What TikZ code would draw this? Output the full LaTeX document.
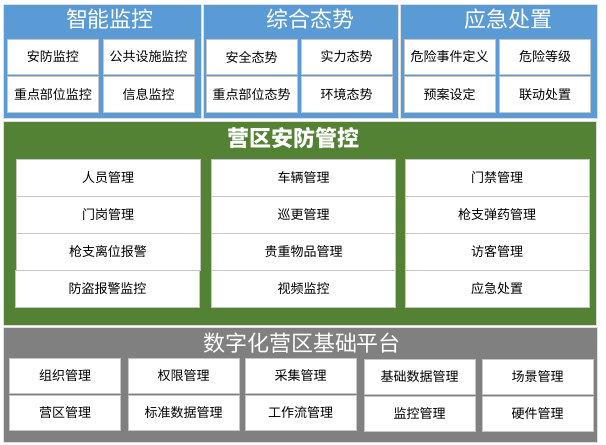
\documentclass[tikz,border=0pt]{standalone}
\usepackage{fontspec}
\newfontfamily\cjk{Noto Sans CJK SC}
\definecolor{pblue}{HTML}{5B9BD5}
\definecolor{pgreen}{HTML}{548235}
\definecolor{pgray}{HTML}{808080}
\begin{document}
\begin{tikzpicture}[x=1pt,y=-1pt,
  panel/.style={draw=gray!25,line width=1pt},
  ptitle/.style={text=white,font=\cjk\fontsize{22}{24}\selectfont,inner sep=0pt},
  gtitle/.style={text=white,font=\cjk\bfseries\fontsize{22}{24}\selectfont,inner sep=0pt},
  box/.style={draw=gray!45,line width=0.8pt,fill=white,inner sep=0pt,
    font=\cjk\fontsize{13}{15}\selectfont},
  tbox/.style={box,minimum width=91pt,minimum height=35.5pt},
  mbox/.style={box,minimum width=184pt,minimum height=37pt},
  bbox/.style={box,minimum width=111pt,minimum height=35pt}]
\useasboundingbox[fill=white] (0,0) rectangle (606,445);
% panels
\node[panel,fill=pblue,minimum width=198pt,minimum height=114pt,inner sep=0pt] (p1) at (102,61) {};
\node[panel,fill=pblue,minimum width=195pt,minimum height=114pt,inner sep=0pt] (p2) at (300.5,61) {};
\node[panel,fill=pblue,minimum width=197pt,minimum height=114pt,inner sep=0pt] (p3) at (498.5,61) {};
\node[panel,fill=pgreen,minimum width=593pt,minimum height=204pt,inner sep=0pt] (p4) at (299.5,223) {};
\node[panel,fill=pgray,minimum width=594pt,minimum height=115pt,inner sep=0pt] (p5) at (300,384.5) {};
% titles
\node[ptitle] (t1) at (110,19) {智能监控};
\node[ptitle] (t2) at (310,19) {综合态势};
\node[ptitle] (t3) at (508,19) {应急处置};
\node[gtitle] (t4) at (293.5,138) {营区安防管控};
\node[ptitle] (t5) at (302,343) {数字化营区基础平台};
% top boxes
\node[tbox] (a1) at (53,57) {安防监控};
\node[tbox] (a2) at (148.5,57) {公共设施监控};
\node[tbox] (a3) at (53,94.5) {重点部位监控};
\node[tbox] (a4) at (148.5,94.5) {信息监控};
\node[tbox] (b1) at (251.5,57) {安全态势};
\node[tbox] (b2) at (346.5,57) {实力态势};
\node[tbox] (b3) at (251.5,94.5) {重点部位态势};
\node[tbox] (b4) at (346.5,94.5) {环境态势};
\node[tbox] (c1) at (449.5,57) {危险事件定义};
\node[tbox] (c2) at (545,57) {危险等级};
\node[tbox] (c3) at (449.5,94.5) {预案设定};
\node[tbox] (c4) at (545,94.5) {联动处置};
% middle boxes
\node[mbox] (m11) at (108,178) {人员管理};
\node[mbox] (m12) at (303.5,178) {车辆管理};
\node[mbox] (m13) at (497,178) {门禁管理};
\node[mbox] (m21) at (108,215) {门岗管理};
\node[mbox] (m22) at (303.5,215) {巡更管理};
\node[mbox] (m23) at (497,215) {枪支弹药管理};
\node[mbox] (m31) at (108,252) {枪支离位报警};
\node[mbox] (m32) at (303.5,252) {贵重物品管理};
\node[mbox] (m33) at (497,252) {访客管理};
\node[mbox] (m41) at (107.5,289) {防盗报警监控};
\node[mbox] (m42) at (303.5,289) {视频监控};
\node[mbox] (m43) at (497,289) {应急处置};
% bottom boxes
\node[bbox] (n11) at (65,375.5) {组织管理};
\node[bbox] (n12) at (183.5,375.5) {权限管理};
\node[bbox] (n13) at (300.5,375.5) {采集管理};
\node[bbox] (n14) at (419.5,376.5) {基础数据管理};
\node[bbox] (n15) at (537.5,376.5) {场景管理};
\node[bbox] (n21) at (65,412.5) {营区管理};
\node[bbox] (n22) at (183.5,412.5) {标准数据管理};
\node[bbox] (n23) at (300.5,412.5) {工作流管理};
\node[bbox] (n24) at (419.5,413.5) {监控管理};
\node[bbox] (n25) at (537.5,413.5) {硬件管理};
\end{tikzpicture}
\end{document}
